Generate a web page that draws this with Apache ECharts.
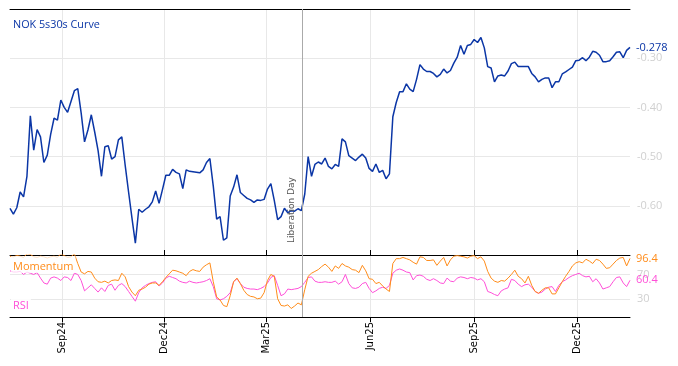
<!DOCTYPE html>
<html>
<head>
<meta charset="utf-8">
<script src="https://cdn.jsdelivr.net/npm/echarts@6/dist/echarts.min.js"></script>
<style>html,body{margin:0;padding:0;background:#fff}#c{width:678px;height:366px}</style>
</head>
<body>
<div id="c"></div>
<script>
// ---- data ----
const titleText = 'NOK 5s30s Curve';
const startDate = '2024-07-17';
const endDate = '2026-01-17';
const stepDays = 3;
const tickDates = ['2024-09-01','2024-12-01','2025-03-01','2025-06-01','2025-09-01','2025-12-01'];
const tickLabels = ['Sep24','Dec24','Mar25','Jun25','Sep25','Dec25'];
const eventDate = '2025-04-02';
const eventLabel = 'Liberation Day';
const curve = [
-0.605,-0.617,-0.604,-0.572,-0.582,-0.540,-0.417,-0.487,-0.445,-0.460,
-0.512,-0.497,-0.455,-0.422,-0.426,-0.385,-0.400,-0.410,-0.388,-0.366,
-0.362,-0.411,-0.470,-0.446,-0.415,-0.450,-0.488,-0.540,-0.480,-0.478,
-0.505,-0.500,-0.466,-0.460,-0.518,-0.572,-0.625,-0.676,-0.607,-0.613,
-0.607,-0.602,-0.592,-0.570,-0.595,-0.567,-0.538,-0.538,-0.526,-0.532,
-0.535,-0.565,-0.527,-0.530,-0.531,-0.532,-0.533,-0.527,-0.512,-0.504,
-0.560,-0.627,-0.622,-0.670,-0.665,-0.580,-0.562,-0.537,-0.573,-0.579,
-0.585,-0.588,-0.593,-0.588,-0.589,-0.587,-0.566,-0.555,-0.589,-0.628,
-0.622,-0.605,-0.614,-0.610,-0.611,-0.606,-0.610,-0.576,-0.500,-0.540,
-0.516,-0.511,-0.515,-0.503,-0.520,-0.525,-0.516,-0.520,-0.464,-0.470,
-0.498,-0.503,-0.508,-0.501,-0.495,-0.503,-0.524,-0.530,-0.515,-0.532,
-0.528,-0.545,-0.535,-0.419,-0.390,-0.368,-0.368,-0.352,-0.363,-0.368,
-0.343,-0.313,-0.322,-0.327,-0.327,-0.331,-0.338,-0.333,-0.322,-0.330,
-0.325,-0.310,-0.298,-0.274,-0.292,-0.274,-0.272,-0.262,-0.268,-0.258,
-0.279,-0.317,-0.320,-0.348,-0.336,-0.334,-0.336,-0.326,-0.311,-0.308,
-0.317,-0.317,-0.317,-0.317,-0.331,-0.338,-0.348,-0.343,-0.340,-0.340,
-0.360,-0.348,-0.348,-0.332,-0.328,-0.323,-0.318,-0.305,-0.304,-0.299,
-0.305,-0.298,-0.286,-0.288,-0.294,-0.307,-0.307,-0.305,-0.297,-0.288,
-0.287,-0.299,-0.284,-0.278];
const momentum = [
100,99,101,100,98,104,103,99,98,100,
99,97,99,100,98,104,101,98,99,104,
88,74,71,75,74,64,58,57,59,56,
60,61,60,72,66,50,41,35,44,46,
49,54,56,56,52,58,65,71,77,76,
74,72,68,75,78,76,75,82,86,89,
58,33,28,19,17,35,58,64,55,44,
37,34,33,30,31,40,60,70,67,30,
19,18,20,14,18,23,20,45,67,72,
75,78,83,87,82,75,84,80,88,84,
82,78,77,73,85,76,63,62,55,57,
51,46,42,88,96,96,98,96,94,90,
87,99,98,93,93,94,85,92,98,84,
94,100,101,100,99,97,100,101,96,99,
92,75,64,59,57,60,59,64,70,77,
67,63,56,67,52,42,39,44,48,48,
38,38,48,58,67,75,84,89,91,89,
95,92,88,95,93,87,80,81,87,93,
97,98,84,96.4];
const rsi = [
76,74,74,75,70,74,72,70,73,64,
56,54,64,66,64,60,66,65,60,72,
70,60,43,48,53,47,41,48,42,52,
54,44,52,55,50,42,34,26,40,48,
52,55,57,58,51,56,64,67,65,63,
59,57,56,59,57,56,57,58,60,63,
50,30,28,30,34,40,58,63,55,49,
47,46,46,45,47,50,56,65,68,52,
35,38,46,45,46,47,50,57,65,66,
59,57,57,58,57,57,59,54,58,70,
55,48,47,49,55,57,47,40,43,47,
49,47,52,72,77,79,77,74,73,61,
68,69,67,62,60,63,60,56,55,64,
59,58,64,66,65,63,65,64,61,63,
58,42,40,37,35,43,46,48,62,60,
54,50,53,54,49,42,39,41,46,49,
50,42,52,58,61,65,68,70,72,68,
66,67,58,63,56,46,48,50,58,65,
66,56,50,60.4];
const mainTicks = [-0.30,-0.40,-0.50,-0.60];
const lowerTicks = [30,70];

// ---- build ----
function isoDay(d){return d.toISOString().slice(0,10);}
const days = [];
for (let d = new Date(startDate+'T00:00:00Z'); isoDay(d) <= endDate; d = new Date(d.getTime()+86400000)) days.push(isoDay(d));
const pairs = arr => arr.map((v,i)=>[days[i*stepDays], v]);
const isTick = (idx, val) => tickDates.indexOf(val) >= 0;
const labelOf = val => { const k = tickDates.indexOf(val); return k>=0 ? tickLabels[k] : ''; };

const BLUE = '#0b36a6', ORANGE = '#ff8c1a', PINK = '#ff4fd8', GRID = '#e8e8e8', AXT = '#d0d0d0';
const F = 'Open Sans';

const chart = echarts.init(document.getElementById('c'), null, {renderer:'canvas'});
chart.setOption({
  animation:false,
  textStyle:{fontFamily:F},
  grid:[
    {left:10, right:48, top:9, height:246},
    {left:10, right:48, top:255, height:62}
  ],
  xAxis:[
    {type:'category', gridIndex:0, data:days, boundaryGap:false, position:'bottom',
     axisLine:{show:true, lineStyle:{color:'#000', width:1}},
     axisTick:{show:true, inside:true, length:5, interval:isTick, lineStyle:{color:'#000'}},
     axisLabel:{show:false},
     splitLine:{show:true, interval:isTick, lineStyle:{color:GRID, width:1}}},
    {type:'category', gridIndex:0, data:days, boundaryGap:false, position:'top',
     axisLine:{show:true, lineStyle:{color:'#000', width:1}},
     axisTick:{show:false}, axisLabel:{show:false}, splitLine:{show:false}},
    {type:'category', gridIndex:1, data:days, boundaryGap:false, position:'bottom',
     axisLine:{show:true, lineStyle:{color:'#000', width:1}},
     axisTick:{show:true, length:5, interval:isTick, lineStyle:{color:'#000'}},
     axisLabel:{show:true, interval:isTick, rotate:90, formatter:labelOf, color:'#000', fontSize:10, fontFamily:'DejaVu Sans', margin:5},
     splitLine:{show:true, interval:isTick, lineStyle:{color:GRID, width:1}}}
  ],
  yAxis:[
    {type:'value', gridIndex:0, position:'right', min:-0.70, max:-0.20, interval:0.1,
     axisLine:{show:false}, axisTick:{show:false},
     axisLabel:{color:AXT, fontSize:11, margin:7, showMinLabel:false, showMaxLabel:false,
       formatter:v=> mainTicks.some(t=>Math.abs(t-v)<1e-6) ? v.toFixed(2) : ''},
     splitLine:{show:true, lineStyle:{color:GRID, width:1}}},
    {type:'value', gridIndex:1, position:'right', min:0, max:102,
     axisLine:{show:false}, axisTick:{show:false, customValues:lowerTicks},
     axisLabel:{color:AXT, fontSize:11, margin:7, customValues:lowerTicks},
     splitLine:{show:true, lineStyle:{color:GRID, width:1}}}
  ],
  graphic:[
    {type:'text', left:13, top:19, z:100, style:{text:titleText, fill:BLUE, font:'10.8px "Open Sans"'}},
    {type:'text', left:11, top:256, z:100, style:{text:'Momentum', fill:ORANGE, font:'11px "Open Sans"', backgroundColor:'rgba(255,255,255,0.75)', padding:[5,2,1,2]}},
    {type:'text', left:11, top:299, z:100, style:{text:'RSI', fill:PINK, font:'11px "Open Sans"', backgroundColor:'rgba(255,255,255,0.85)', padding:[1,2]}}
  ],
  series:[
    {type:'line', xAxisIndex:0, yAxisIndex:0, data:pairs(curve), showSymbol:false, symbol:'none',
     lineStyle:{color:BLUE, width:1.5}, itemStyle:{color:BLUE},
     endLabel:{show:true, formatter:p=>p.value[1].toFixed(3), color:BLUE, fontSize:11, distance:6},
     markLine:{silent:true, symbol:['none','none'], lineStyle:{color:'#aaa', width:1, type:'solid'},
       label:{show:true, formatter:eventLabel, position:'insideStartTop', color:'#555', fontSize:9, fontFamily:'DejaVu Sans', distance:[12,6]},
       data:[{xAxis:eventDate}]}},
    {type:'line', xAxisIndex:2, yAxisIndex:1, data:pairs(rsi), showSymbol:false, symbol:'none',
     lineStyle:{color:PINK, width:1}, itemStyle:{color:PINK},
     endLabel:{show:true, formatter:p=>String(p.value[1]), color:PINK, fontSize:11, distance:6}},
    {type:'line', xAxisIndex:2, yAxisIndex:1, data:pairs(momentum), showSymbol:false, symbol:'none',
     lineStyle:{color:ORANGE, width:1}, itemStyle:{color:ORANGE},
     endLabel:{show:true, formatter:p=>String(p.value[1]), color:ORANGE, fontSize:11, distance:6},
     markLine:{silent:true, symbol:['none','none'], lineStyle:{color:'#aaa', width:1, type:'solid'},
       label:{show:false}, data:[{xAxis:eventDate}]}}
  ]
});
</script>
</body>
</html>
